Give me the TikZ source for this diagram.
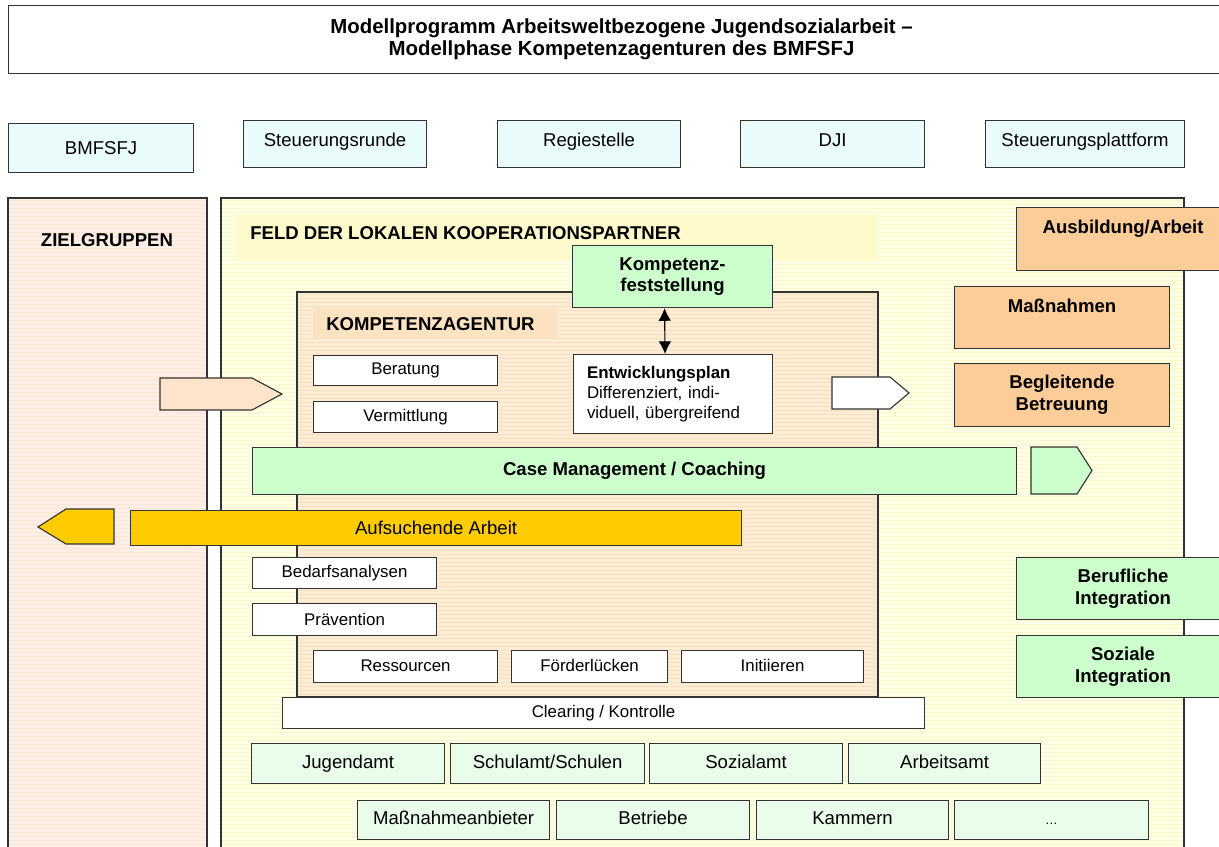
\documentclass[tikz,border=0pt]{standalone}
\usepackage{fontspec}
\setmainfont{Liberation Sans}
\usetikzlibrary{arrows.meta}

\definecolor{topcyan}{RGB}{234,251,251}
\definecolor{zgfill}{RGB}{253,239,229}
\definecolor{zgline}{RGB}{251,230,216}
\definecolor{feldfill}{RGB}{255,255,228}
\definecolor{feldline}{RGB}{249,247,206}
\definecolor{feldband}{RGB}{255,250,204}
\definecolor{kafill}{RGB}{253,236,212}
\definecolor{kaline}{RGB}{249,224,194}
\definecolor{kaband}{RGB}{251,226,193}
\definecolor{kgreen}{RGB}{204,255,204}
\definecolor{palegreen}{RGB}{234,252,234}
\definecolor{korange}{RGB}{252,204,153}
\definecolor{kyellow}{RGB}{255,204,0}
\definecolor{kpeach}{RGB}{253,228,202}

\tikzset{
  edge/.style={draw=black!80, line width=0.8pt},
  box/.style={edge, inner sep=0pt, align=center},
  boxat/.style args={#1/#2/#3/#4}{anchor=north west, at={(#1,#2)},
    minimum width={(#3-#1)*0.025cm}, minimum height={(#4-#2)*0.025cm}},
  small/.style={font=\fontsize{12}{14.2}\selectfont},
  mid/.style={font=\fontsize{13.2}{15.6}\selectfont},
  heavy/.style={font=\bfseries\fontsize{13.2}{15.6}\selectfont},
  raised/.style={text depth=#1},
  even/.style={text height=9.6pt, text depth=2.6pt},
}

\begin{document}
\begin{tikzpicture}[x=0.025cm, y=-0.025cm]
    \useasboundingbox (0,0) rectangle (1219,847);

    % Title
    \node[box, fill=white, boxat=8/5/1234/73, font=\bfseries\fontsize{14.5}{15.8}\selectfont] (title)
        {Modellprogramm Arbeitsweltbezogene Jugendsozialarbeit –\\Modellphase Kompetenzagenturen des BMFSFJ};

    % Steering bodies
    \node[box, fill=topcyan, mid, boxat=8/123/193/172] (bmfsfj) {BMFSFJ};
    \node[box, fill=topcyan, mid, raised=5.7pt, boxat=243/120/426/167] (srunde) {Steuerungsrunde};
    \node[box, fill=topcyan, mid, raised=5.7pt, boxat=497/120/680/167] (regie) {Regiestelle};
    \node[box, fill=topcyan, mid, raised=5.7pt, boxat=740/120/924/167] (dji) {DJI};
    \node[box, fill=topcyan, mid, raised=5.7pt, boxat=985/120/1184/167] (splatt) {Steuerungsplattform};

    % Target groups column
    \fill[zgfill] (8,198) rectangle (207,870);
    \begin{scope}
        \clip (8,198) rectangle (207,870);
        \foreach \y in {200,204,...,868}
            \draw[zgline, line width=0.3pt] (8,\y) -- (207,\y);
    \end{scope}
    \draw[edge] (8,198) rectangle (207,870);
    \node[heavy] (ziel) at (107,240) {ZIELGRUPPEN};

    % Field of local partners
    \fill[feldfill] (221,198) rectangle (1184,870);
    \begin{scope}
        \clip (221,198) rectangle (1184,870);
        \foreach \y in {200,204,...,868}
            \draw[feldline, line width=0.3pt] (221,\y) -- (1184,\y);
    \end{scope}
    \draw[edge] (221,198) rectangle (1184,870);
    \fill[feldband] (236,215) rectangle (877,260);
    \node[heavy, anchor=west, inner sep=0pt] (feld) at (250,233) {FELD DER LOKALEN KOOPERATIONSPARTNER};

    % Competence agency
    \fill[kafill] (297,292) rectangle (878,697);
    \begin{scope}
        \clip (297,292) rectangle (878,697);
        \foreach \y in {294,298,...,696}
            \draw[kaline, line width=0.3pt] (297,\y) -- (878,\y);
    \end{scope}
    \draw[edge] (297,292) rectangle (878,697);
    \fill[kaband] (313,308) rectangle (557,338);
    \node[heavy, anchor=west, inner sep=0pt] (ka) at (326,324) {KOMPETENZAGENTUR};

    \node[box, fill=kgreen, heavy, boxat=572/245/772/307] (kfst) {Kompetenz-\\feststellung};
    \node[box, fill=white, small, align=left, text width=4.3cm, boxat=573/354/772/433] (eplan)
        {\textbf{Entwicklungsplan}\\Differenziert, indi-\\viduell, übergreifend};
    \draw[black, line width=0.8pt, {Latex[length=9pt,width=9pt]}-{Latex[length=9pt,width=9pt]}]
        ([xshift=-0.2cm]kfst.south) -- ([xshift=-0.2cm]eplan.north);

    \node[box, fill=white, small, boxat=313/355/497/385] (berat) {Beratung};
    \node[box, fill=white, small, boxat=313/401/497/432] (vermit) {Vermittlung};

    % Block arrows
    \filldraw[edge, fill=kpeach] (160,378) -- (252,378) -- (282,394) -- (252,410) -- (160,410) -- cycle;
    \filldraw[edge, fill=white] (832,377) -- (890,377) -- (909,393) -- (890,409) -- (832,409) -- cycle;

    \node[box, fill=kgreen, heavy, boxat=252/447/1016/494] (case) {Case Management / Coaching};
    \filldraw[edge, fill=kgreen] (1031,447) -- (1077,447) -- (1092,470.5) -- (1077,494) -- (1031,494) -- cycle;

    \node[box, fill=kyellow, mid, boxat=130/510/741/545] (aufs) {Aufsuchende Arbeit};
    \filldraw[edge, fill=kyellow] (114,509) -- (66,509) -- (38,527) -- (66,544) -- (114,544) -- cycle;

    \node[box, fill=white, small, boxat=252/557/436/588] (bedarf) {Bedarfsanalysen};
    \node[box, fill=white, small, boxat=252/603/436/635] (praev) {Prävention};

    \node[box, fill=white, small, even, boxat=313/650/497/682] (ress) {Ressourcen};
    \node[box, fill=white, small, even, boxat=511/650/667/682] (foerd) {Förderlücken};
    \node[box, fill=white, small, even, boxat=681/650/863/682] (init) {Initiieren};

    \node[box, fill=white, small, boxat=282/697/924/728] (clear) {Clearing / Kontrolle};

    % Local partners
    \foreach \id/\xa/\xb/\txt in {jug/251/444/Jugendamt, schul/450/644/{Schulamt/Schulen},
                                  sozi/649/842/Sozialamt, arb/848/1040/Arbeitsamt}
        \node[box, fill=palegreen, mid, even, boxat=\xa/743/\xb/783] (\id) {\txt};
    \foreach \id/\xa/\xb/\txt in {anb/357/549/Maßnahmeanbieter, betr/556/749/Betriebe,
                                  kamm/756/948/Kammern, etc/954/1148/{\small\dots}}
        \node[box, fill=palegreen, mid, even, boxat=\xa/800/\xb/839] (\id) {\txt};

    % Outcomes
    \node[box, fill=korange, heavy, raised=17.8pt, boxat=1016/207/1229/270] (ausb) {Ausbildung/Arbeit};
    \node[box, fill=korange, heavy, raised=17pt, boxat=954/286/1169/348] (massn) {Maßnahmen};
    \node[box, fill=korange, heavy, boxat=954/363/1169/426] (begl) {Begleitende\\Betreuung};
    \node[box, fill=kgreen, heavy, boxat=1016/557/1229/619] (beruf) {Berufliche\\Integration};
    \node[box, fill=kgreen, heavy, boxat=1016/635/1229/697] (sozint) {Soziale\\Integration};
\end{tikzpicture}
\end{document}
